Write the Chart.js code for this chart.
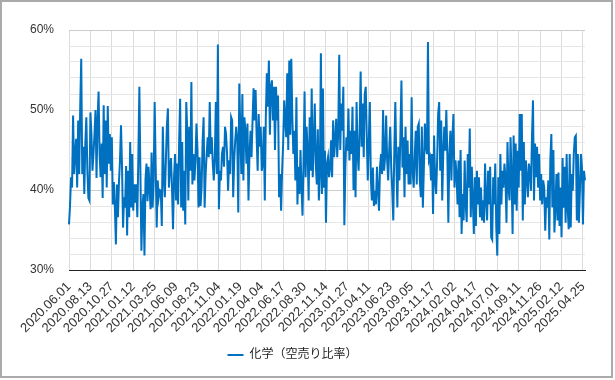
<!DOCTYPE html>
<html><head><meta charset="utf-8">
<script src="https://cdn.jsdelivr.net/npm/chart.js@4"></script>
<style>html,body{margin:0;padding:0;background:#fff}canvas{display:block}</style>
</head><body>
<canvas id="c" width="615" height="380"></canvas>
<script>
const seriesName = '化学（空売り比率）';
const tickLabels = ['2020.06.01','2020.08.13','2020.10.27','2021.01.12','2021.03.25','2021.06.09','2021.08.23','2021.11.04','2022.01.19','2022.04.04','2022.06.17','2022.08.30','2022.11.14','2023.01.27','2023.04.11','2023.06.23','2023.09.05','2023.11.17','2024.02.02','2024.04.17','2024.07.01','2024.09.11','2024.11.26','2025.02.12','2025.04.25'];
const pointsPerTick = 21;
const yTicks = [30, 40, 50, 60];
// short-selling ratio (%); one row per tick interval
const shortRatio = [
35.7,38.0,41.6,40.3,49.3,42.0,44.5,46.4,40.3,48.7,42.0,50.4,56.4,42.0,45.4,39.5,45.8,49.1,42.5,39.0,38.7,
49.7,47.0,42.4,44.5,47.0,50.0,41.5,48.7,52.3,44.5,41.6,45.8,39.0,50.6,42.0,48.7,40.3,50.5,43.3,47.0,42.4,
46.6,38.2,41.0,37.8,33.2,40.7,36.6,41.0,43.7,48.1,42.9,35.3,39.1,37.8,43.0,34.3,42.4,36.6,46.0,37.8,44.5,
37.4,40.7,38.4,40.7,36.6,44.1,52.9,42.4,32.4,37.8,39.5,31.8,41.3,43.3,38.6,42.9,40.3,37.6,44.7,37.8,41.2,
51.0,43.0,35.3,41.2,39.1,40.0,39.9,35.5,47.9,41.6,39.1,43.7,48.0,50.2,40.3,42.8,44.0,40.3,35.1,41.6,44.5,
38.7,43.3,38.2,46.0,51.4,37.8,46.0,37.4,42.4,35.7,51.0,47.2,38.7,47.9,42.4,53.5,40.7,44.5,41.2,43.7,48.3,
45.0,37.8,44.1,38.0,40.3,46.0,49.1,37.8,42.0,44.5,46.6,44.1,51.0,44.5,46.6,43.3,41.2,44.1,51.0,42.0,58.2,
37.6,42.4,41.2,44.5,45.4,42.9,47.9,47.0,44.5,39.9,43.7,42.0,49.1,48.7,39.1,43.7,46.2,47.9,46.2,37.2,53.3,
47.2,42.0,52.0,41.2,49.1,47.4,43.3,48.3,38.7,44.5,47.4,44.1,48.7,52.7,48.7,52.5,46.6,42.4,49.5,45.4,47.9,
42.4,43.3,47.9,38.7,49.1,54.6,50.4,56.2,46.9,52.9,53.7,48.7,52.9,45.0,52.9,48.7,51.8,39.1,42.0,37.4,42.4,
45.8,51.2,48.7,46.6,54.6,45.0,56.2,46.9,56.4,49.1,44.5,47.4,41.2,51.6,38.2,42.9,39.5,45.0,40.3,36.8,43.7,
52.3,41.6,47.9,45.0,38.7,49.1,42.4,52.7,41.6,45.8,50.8,43.3,40.7,47.6,38.7,42.0,57.1,39.5,52.7,40.3,44.9,
35.9,43.3,44.1,41.6,42.8,46.2,41.6,48.7,44.1,46.2,48.9,44.1,47.0,56.9,45.0,50.8,47.4,52.9,35.6,42.9,46.6,
44.9,50.2,43.7,47.4,44.5,50.4,40.0,47.4,39.1,51.0,44.5,42.4,47.4,54.8,45.4,50.8,44.1,52.0,52.9,46.6,41.2,
46.2,51.0,41.4,38.7,42.8,38.0,39.9,38.2,42.9,39.9,37.4,42.9,44.5,42.0,50.0,42.4,44.1,49.3,43.7,41.2,45.0,
47.9,42.8,39.9,36.2,45.0,51.0,43.3,37.8,45.4,41.2,47.0,53.7,42.8,46.6,39.1,47.9,42.0,46.2,40.7,44.5,40.7,
51.6,42.4,40.3,44.1,47.4,40.7,47.9,48.3,41.2,39.1,47.9,37.8,42.8,48.3,45.4,44.5,58.5,43.7,44.1,41.2,44.5,
37.0,46.8,41.2,39.5,43.7,49.5,51.0,42.4,48.7,38.7,44.5,47.9,44.9,50.0,44.5,35.9,44.5,47.4,41.2,46.6,49.5,
40.3,43.7,42.0,38.2,43.7,36.6,45.0,34.5,39.5,36.2,43.7,38.2,36.0,44.5,40.3,47.7,36.6,42.9,38.7,34.5,41.6,
35.5,42.4,38.2,41.6,36.6,40.3,36.2,38.7,35.9,43.3,38.7,36.2,42.4,38.2,42.9,34.1,33.8,41.6,38.2,43.3,35.3,
31.8,41.6,34.5,44.5,38.2,42.4,40.3,43.3,41.6,35.9,46.0,40.3,38.7,46.6,41.6,34.5,46.8,38.2,45.8,37.4,44.9,
40.3,49.5,42.4,49.5,36.2,46.0,38.2,43.7,41.6,39.1,43.3,42.4,39.9,46.6,51.2,38.7,45.8,41.6,45.4,40.3,44.5,
38.7,42.0,38.2,41.2,40.3,34.9,39.1,37.8,41.2,33.8,43.7,47.0,37.8,45.0,34.7,37.8,42.0,36.2,42.2,35.5,40.3,
34.1,44.0,37.8,42.9,35.9,44.5,37.8,35.1,44.5,35.3,42.0,39.9,44.5,46.6,46.8,36.2,44.5,35.9,39.9,44.5,42.9,
35.7,42.4,41.2
];
const categories = shortRatio.map((_, i) => i % pointsPerTick === 0 ? (tickLabels[i / pointsPerTick] || '') : '');
const isMajor = v => yTicks.some(t => Math.abs(t - v) < 1e-6);

Chart.defaults.font.family = "'Liberation Sans', Arial, 'Noto Sans CJK JP', sans-serif";
Chart.defaults.font.size = 12;
Chart.defaults.color = '#333';

const frame = {
  id: 'frame',
  afterDraw(chart) {
    const c = chart.ctx;
    c.save();
    c.strokeStyle = '#aaaaaa';
    c.lineWidth = 2;
    c.strokeRect(1, 1, 611, 376);
    c.restore();
  }
};

new Chart(document.getElementById('c'), {
  type: 'line',
  data: {
    labels: categories,
    datasets: [{
      label: seriesName,
      data: shortRatio,
      borderColor: '#0070c0',
      backgroundColor: '#0070c0',
      borderWidth: 2,
      pointRadius: 0,
      tension: 0,
      fill: false
    }]
  },
  options: {
    responsive: false,
    animation: false,
    layout: { padding: { left: 0, right: 30, top: 30, bottom: 9 } },
    plugins: {
      tooltip: { enabled: false },
      legend: {
        position: 'bottom',
        labels: { usePointStyle: true, pointStyle: 'line', pointStyleWidth: 16, padding: 10, color: '#222', font: { size: 12 } }
      }
    },
    scales: {
      x: {
        type: 'category',
        afterFit(s) { s.height = 69; },
        afterBuildTicks(s) { s.ticks = s.ticks.filter(t => t.value % pointsPerTick === 0); },
        border: { display: true, color: '#222', width: 1 },
        grid: { color: '#dcdcdc', drawTicks: false },
        ticks: {
          autoSkip: false, minRotation: 45, maxRotation: 45, padding: 9, color: '#333',
          font: { size: 13 },
          callback(v) { return categories[v]; }
        }
      },
      y: {
        min: 30, max: 60,
        afterFit(s) { s.width = 69; },
        border: { display: false },
        grid: {
          drawTicks: false,
          color(ctx) { return isMajor(ctx.tick.value) ? '#cccccc' : '#e6e6e6'; }
        },
        ticks: {
          stepSize: 2, autoSkip: false, padding: 15, color: '#333',
          callback(v) { return isMajor(v) ? Math.round(v) + '%' : ''; }
        }
      }
    }
  },
  plugins: [frame]
});
</script>
</body></html>
